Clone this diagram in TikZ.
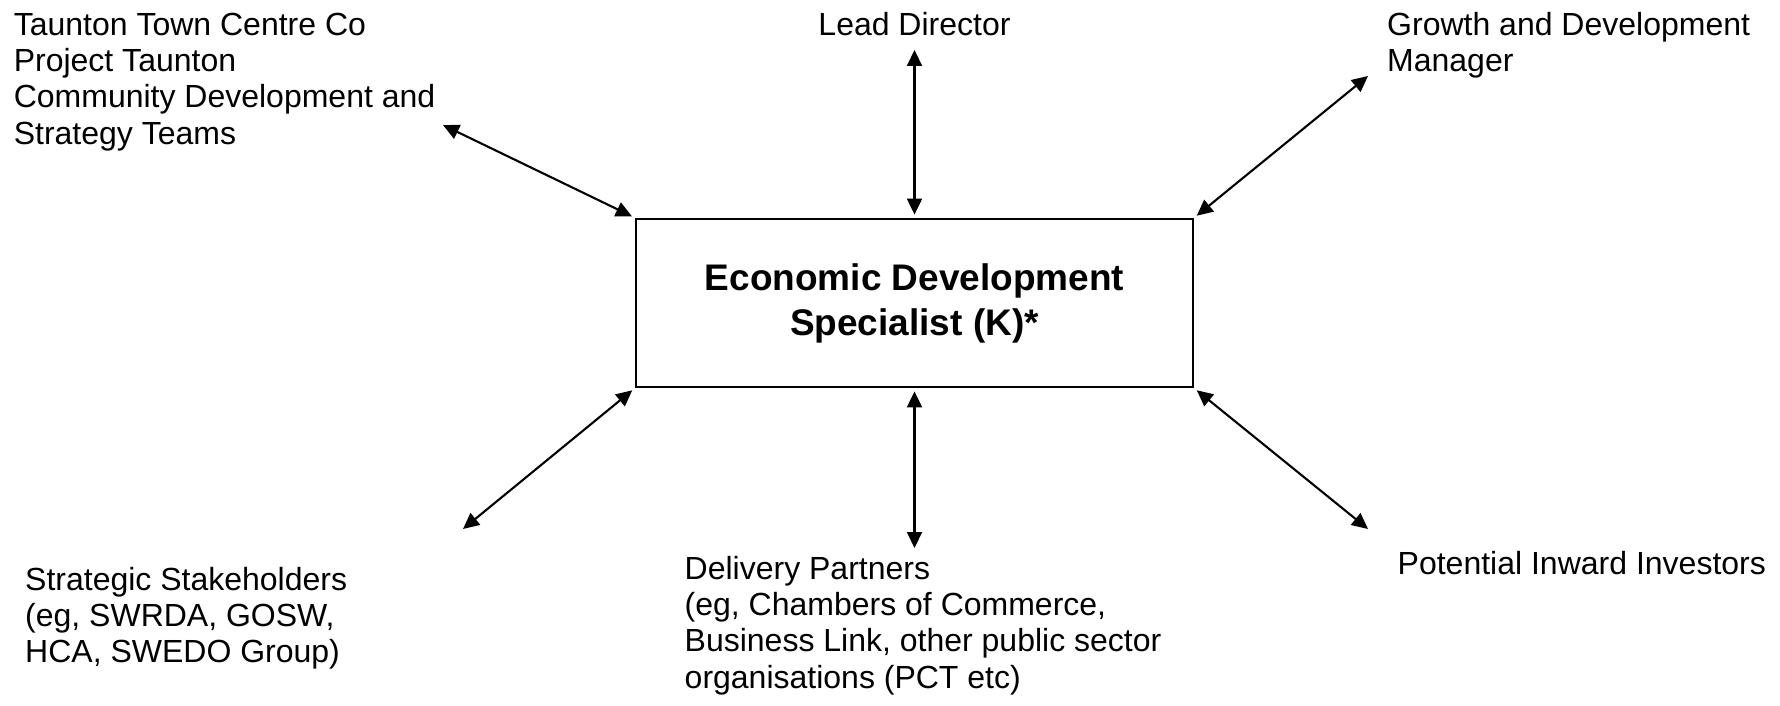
\documentclass[tikz,border=0pt]{standalone}
\usepackage{fontspec}
\setmainfont{Liberation Sans}
\usetikzlibrary{arrows.meta}
\begin{document}
\begin{tikzpicture}[x=1pt,y=-1pt,
  lbl/.style={inner sep=0pt, font=\fontsize{32}{36.3}\selectfont, align=left},
  centrebox/.style={draw, line width=2.8pt, inner sep=0pt, minimum width=557pt, minimum height=168pt,
    font=\bfseries\fontsize{37}{45}\selectfont, align=center},
  link/.style={line width=2.1pt, {Triangle[length=16pt,width=15pt]}-{Triangle[length=16pt,width=15pt]}}]
\useasboundingbox (0,0) rectangle (1780,706);
\fill[white] (0,0) rectangle (1780,706);

\node[centrebox] (c) at (914.5,303) {Economic Development\\Specialist (K)*};

\node[lbl, anchor=north west] (tl) at (13.6,12.6) {Taunton Town Centre Co\\Project Taunton\\Community Development and\\Strategy Teams};
\node[lbl, anchor=base] (ld) at (914.5,35.5) {Lead Director};
\node[lbl, anchor=north west] (tr) at (1387,12) {Growth and Development\\Manager};
\node[lbl, anchor=north west] (bl) at (25,567) {Strategic Stakeholders\\(eg, SWRDA, GOSW,\\HCA, SWEDO Group)};
\node[lbl, anchor=north west] (bm) at (684.5,556) {Delivery Partners\\(eg, Chambers of Commerce,\\Business Link, other public sector\\organisations (PCT etc)};
\node[lbl, anchor=base west] (br) at (1397.5,574.5) {Potential Inward Investors};

\coordinate (tlend) at (443,125);
\coordinate (ldend) at (914.5,50);
\coordinate (trend) at (1368,76);
\coordinate (blend) at (463,529);
\coordinate (bmend) at (914.5,548);
\coordinate (brend) at (1368,529);

\draw[link, shorten >=3pt] (tlend) -- (c.north west);
\draw[link, shorten >=3pt] (ldend) -- (c.north);
\draw[link, shorten >=3pt] (trend) -- (c.north east);
\draw[link, shorten >=3pt] (blend) -- (c.south west);
\draw[link, shorten >=3pt] (bmend) -- (c.south);
\draw[link, shorten >=3pt] (brend) -- (c.south east);
\end{tikzpicture}
\end{document}
